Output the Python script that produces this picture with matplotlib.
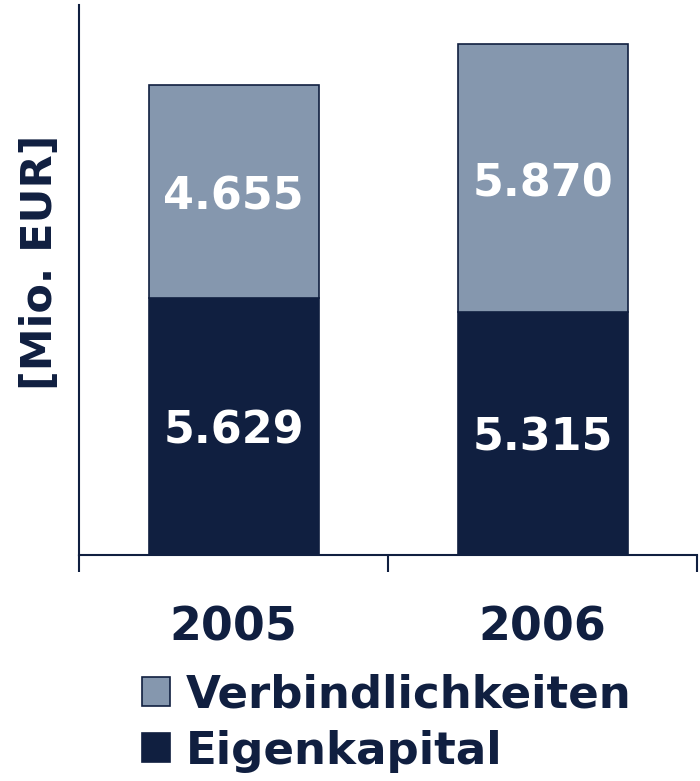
import matplotlib.pyplot as plt
from matplotlib.patches import Patch
import numpy as np

years = ["2005", "2006"]
eigenkapital = [5.629, 5.315]
verbindlichkeiten = [4.655, 5.870]
eig_labels = ["5.629", "5.315"]
verb_labels = ["4.655", "5.870"]

NAVY = "#101f40"
GREY = "#8597ae"

plt.rcParams["font.family"] = "DejaVu Sans"
plt.rcParams["font.weight"] = "bold"

fig = plt.figure(figsize=(7.0, 7.81), dpi=100)
ax = fig.add_axes([0.113, 0.289, 0.883, 0.705])

x = np.arange(len(years))
w = 0.55
ax.bar(x, eigenkapital, w, color=NAVY, edgecolor=NAVY, linewidth=1.2)
ax.bar(x, verbindlichkeiten, w, bottom=eigenkapital, color=GREY,
       edgecolor=NAVY, linewidth=1.2)

for i in range(len(years)):
    ax.text(x[i], eigenkapital[i] / 2 - 0.1, eig_labels[i], ha="center", va="center",
            color="white", fontsize=32, fontweight="bold")
    ax.text(x[i], eigenkapital[i] + verbindlichkeiten[i] / 2 - 0.12, verb_labels[i],
            ha="center", va="center", color="white", fontsize=32, fontweight="bold")

ax.set_xlim(-0.5, 1.5)
ax.set_ylim(0, 12.05)
ax.set_yticks([])
ax.set_xticks(x)
ax.set_xticklabels(years, fontsize=33, fontweight="bold", color=NAVY)
ax.tick_params(axis="x", which="major", length=0, pad=36)
ax.set_xticks([-0.5, 0.5, 1.5], minor=True)
ax.tick_params(axis="x", which="minor", length=12, width=1.5, color=NAVY, direction="out")
for s in ["top", "right"]:
    ax.spines[s].set_visible(False)
for s in ["left", "bottom"]:
    ax.spines[s].set_color(NAVY)
    ax.spines[s].set_linewidth(1.5)

ax.set_ylabel("[Mio. EUR]", fontsize=31, fontweight="bold", color=NAVY)
ax.yaxis.set_label_coords(-0.03, 0.533)

handles = [Patch(facecolor=GREY, edgecolor=NAVY, linewidth=1.2),
           Patch(facecolor=NAVY, edgecolor=NAVY, linewidth=1.2)]
leg = fig.legend(handles, ["Verbindlichkeiten", "Eigenkapital"],
                 loc="upper left", frameon=False,
                 fontsize=32.5, handlelength=0.62, handleheight=0.62,
                 handletextpad=0.35, labelspacing=0.3, borderpad=0, borderaxespad=0)
leg.set_bbox_to_anchor((0.203, 0.138), transform=fig.transFigure)
for t in leg.get_texts():
    t.set_color(NAVY)
    t.set_fontweight("bold")

fig.savefig("out.png", dpi=100)
